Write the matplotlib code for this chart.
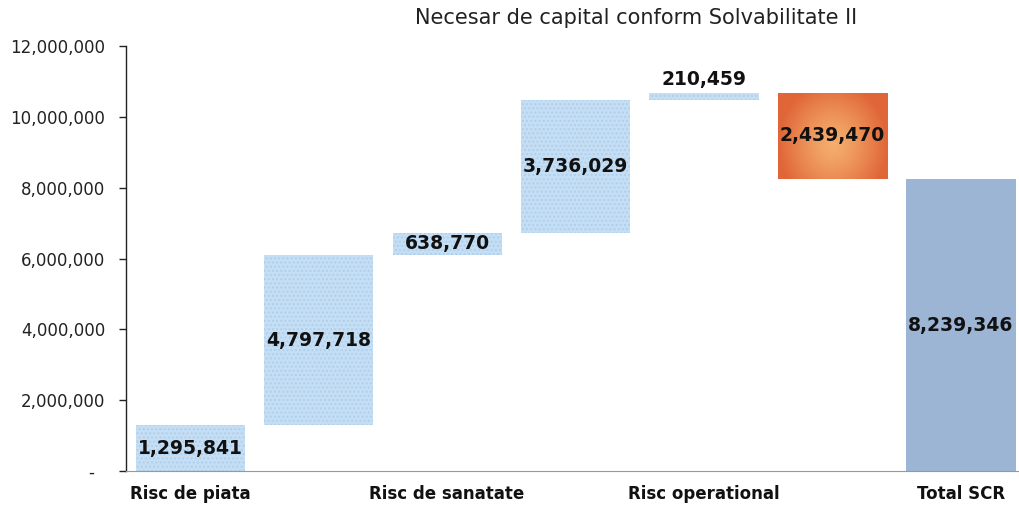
import numpy as np
import matplotlib
matplotlib.use("Agg")
import matplotlib.pyplot as plt
from matplotlib.ticker import FuncFormatter

# ---- data ----
categories = ["Risc de piata", "", "Risc de sanatate", "", "Risc operational", "", "Total SCR"]
values = [1295841, 4797718, 638770, 3736029, 210459, -2439470, 8239346]
is_total = [False, False, False, False, False, False, True]
title = "Necesar de capital conform Solvabilitate II"
yticks = [0, 2000000, 4000000, 6000000, 8000000, 10000000, 12000000]

# ---- layout ----
W, H = 1020, 509
fig = plt.figure(figsize=(W / 100, H / 100), dpi=100)
ax = fig.add_axes([126 / W, 1 - 471 / H, 894 / W, (471 - 46) / H])

x = np.arange(len(values))
bottoms = []
run = 0
for v, t in zip(values, is_total):
    if t:
        bottoms.append(0)
    else:
        bottoms.append(run if v >= 0 else run + v)
        run += v
heights = [abs(v) for v in values]

bw = 0.85
light = "#c5def4"
for i in range(len(values)):
    if is_total[i]:
        ax.bar(x[i], heights[i], bw, bottom=bottoms[i], color="#9cb5d4", linewidth=0, zorder=2)
    elif values[i] < 0:
        # orange gradient bar
        b = ax.bar(x[i], heights[i], bw, bottom=bottoms[i], color="#e8763e", linewidth=0, zorder=2)[0]
        nx, ny = 80, 80
        gx = np.linspace(-1, 1, nx)
        gy = np.linspace(-1, 1, ny)
        XX, YY = np.meshgrid(gx, gy)
        r = np.clip(np.sqrt((XX * 1.0) ** 2 + ((YY - 0.2) * 0.7) ** 2), 0, 1) ** 1.3
        c0 = np.array([0.96, 0.68, 0.43])
        c1 = np.array([0.88, 0.40, 0.22])
        img = c0[None, None, :] * (1 - r[..., None]) + c1[None, None, :] * r[..., None]
        im = ax.imshow(img, extent=[x[i] - bw / 2, x[i] + bw / 2, bottoms[i], bottoms[i] + heights[i]],
                       aspect="auto", zorder=2.5, interpolation="bilinear", origin="upper")
        im.set_clip_path(b)
    else:
        ax.bar(x[i], heights[i], bw, bottom=bottoms[i], color=light, edgecolor="#add0ee",
               hatch="....", linewidth=0, zorder=2)

# data labels
for i in range(len(values)):
    lab = f"{abs(values[i]):,}"
    if heights[i] < 500000:
        ax.text(x[i], bottoms[i] + heights[i] + 120000, lab, ha="center", va="bottom",
                fontsize=13.5, fontweight="bold", color="#111111", zorder=4)
    else:
        ax.text(x[i], bottoms[i] + heights[i] / 2, lab, ha="center", va="center",
                fontsize=13.5, fontweight="bold", color="#111111", zorder=4)

ax.set_ylim(0, 12000000)
ax.set_xlim(-0.5, 6.46)
ax.set_yticks(yticks)
ax.yaxis.set_major_formatter(FuncFormatter(lambda v, p: "-  " if v == 0 else f"{int(v):,}"))
ax.tick_params(axis="y", direction="out", length=5, width=1, pad=10, labelsize=12, colors="#222222")
ax.set_xticks(x)
ax.set_xticklabels(categories, fontsize=12, fontweight="bold")
ax.tick_params(axis="x", length=0, pad=10, colors="#111111")

for s in ["top", "right"]:
    ax.spines[s].set_visible(False)
ax.spines["left"].set_color("#222222")
ax.spines["left"].set_linewidth(1)
ax.spines["bottom"].set_color("#999999")
ax.spines["bottom"].set_linewidth(0.8)
ax.spines["bottom"].set_linestyle((0, (2, 1)))

fig.text(636 / W, 1 - 18 / H, title, ha="center", va="center", fontsize=15, color="#222222")

fig.savefig("out.png", dpi=100)
